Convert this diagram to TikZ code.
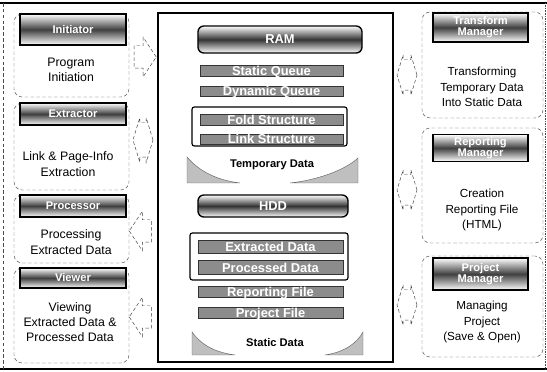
\documentclass[tikz,border=0pt]{standalone}
\usepackage{fontspec}
\setmainfont{Liberation Sans}
\usetikzlibrary{shapes.arrows,positioning,calc}

\begin{document}
\begin{tikzpicture}[x=0.03cm, y=-0.03cm,
  modbox/.style={draw=black!70, densely dashed, rounded corners=7pt, inner sep=0pt},
  titlebox/.style={draw=black, line width=1.1pt, top color=white, bottom color=white,
    middle color=black!75, inner sep=0pt, align=center, text=white,
    font=\fontsize{9.5}{10.5}\selectfont\bfseries},
  barbox/.style={draw=black!80, fill=black!45, minimum width=4.29cm, inner sep=0pt,
    text height=7.9pt, text depth=0pt, text=white, font=\fontsize{11}{11}\selectfont\bfseries},
  groupbox/.style={draw=black, line width=1pt, rounded corners=2pt, inner sep=0pt},
  memhead/.style={draw=black, line width=1.2pt, rounded corners=5pt, top color=white,
    bottom color=white, middle color=black!80, inner sep=0pt, text=white,
    font=\fontsize{11}{11}\selectfont\bfseries},
  desc/.style={align=center, font=\fontsize{10.5}{13}\selectfont},
  wedge/.style={fill=black!25, draw=black!60, thin},
  onearrow/.style={single arrow, draw=black!75, densely dashed, thin, minimum height=0.66cm,
    inner xsep=0pt, inner ysep=0.33cm, single arrow head extend=0.255cm, single arrow tip angle=113},
  twoarrow/.style={double arrow, draw=black!75, densely dashed, thin, minimum height=0.6cm,
    inner xsep=0pt, inner ysep=0.45cm, double arrow head extend=0.15cm, double arrow tip angle=146}]

\useasboundingbox (0,0) rectangle (547,372);

% outer frame
\draw[line width=1.2pt] (0,3) -- (547,3);
\draw[line width=1.2pt] (0,369) -- (547,369);
\draw[densely dashed, black!70] (3,3) -- (3,369);
\draw[densely dotted, black!70] (545,3) -- (545,369);

% left column
\node[modbox, minimum width=3.45cm, minimum height=2.49cm] (init) at (71.5,55.5) {};
\node[titlebox, minimum width=3.18cm, minimum height=0.93cm] (initT) at (73,29.5) {Initiator};
\node[desc] (initD) at (71,70) {Program\\Initiation};

\node[modbox, minimum width=3.45cm, minimum height=2.61cm] (extr) at (71.5,146.5) {};
\node[titlebox, minimum width=3.18cm, minimum height=0.66cm] (extrT) at (73,114) {Extractor};
\node[desc] (extrD) at (68,164) {Link \& Page-Info\\Extraction};

\node[modbox, minimum width=3.45cm, minimum height=2.04cm] (proc) at (71.5,229) {};
\node[titlebox, minimum width=3.18cm, minimum height=0.66cm] (procT) at (73,206) {Processor};
\node[desc] (procD) at (71,242) {Processing\\Extracted Data};

\node[modbox, minimum width=3.45cm, minimum height=2.85cm] (view) at (71.5,315.5) {};
\node[titlebox, minimum width=3.18cm, minimum height=0.6cm] (viewT) at (73,278) {Viewer};
\node[desc] (viewD) at (70,322) {Viewing\\Extracted Data \&\\Processed Data};

% storage
\node[draw=black, line width=1pt, minimum width=7.05cm, minimum height=10.47cm] (main) at (275.5,187.5) {};

\node[memhead, minimum width=4.92cm, minimum height=0.81cm] (ram) at (280,39.5) {RAM};
\node[barbox, minimum height=0.33cm] (sq) at (271.5,70.5) {Static Queue};
\node[barbox, minimum height=0.3cm] (dq) at (271.5,91) {Dynamic Queue};
\node[groupbox, minimum width=4.65cm, minimum height=1.17cm] (tmp) at (269.5,126.5) {};
\node[barbox, minimum height=0.33cm] (fs) at (271.5,119.5) {Fold Structure};
\node[barbox, minimum height=0.3cm] (ls) at (271.5,139) {Link Structure};
\fill[wedge] (187,157) -- (187,183) -- (240,183) .. controls (215,180) and (198,170) .. (187,157) -- cycle;
\fill[wedge] (358,158) -- (358,183) -- (290,183) .. controls (318,180) and (345,170) .. (358,158) -- cycle;
\node[font=\fontsize{9.5}{10}\selectfont\bfseries] (tmpD) at (272,165) {Temporary Data};

\node[memhead, minimum width=4.5cm, minimum height=0.66cm] (hdd) at (273,206) {HDD};
\node[groupbox, minimum width=4.74cm, minimum height=1.41cm] (st) at (269,256.5) {};
\node[barbox, minimum width=4.35cm, minimum height=0.39cm] (ed) at (270.5,246.5) {Extracted Data};
\node[barbox, minimum width=4.35cm, minimum height=0.42cm] (pd) at (270.5,267.5) {Processed Data};
\node[barbox, minimum width=4.35cm, minimum height=0.33cm] (rf) at (270.5,292) {Reporting File};
\node[barbox, minimum width=4.35cm, minimum height=0.33cm] (pf) at (270.5,312.5) {Project File};
\fill[wedge] (192,332) -- (192,355) -- (235,355) .. controls (212,352) and (200,343) .. (192,332) -- cycle;
\fill[wedge] (363,332) -- (363,355) -- (325,355) .. controls (345,352) and (357,343) .. (363,332) -- cycle;
\node[font=\fontsize{9.5}{10}\selectfont\bfseries] (stD) at (275,343) {Static Data};

% right column
\node[modbox, minimum width=3.63cm, minimum height=3.18cm] (trans) at (482.5,65) {};
\node[titlebox, minimum width=2.85cm, minimum height=0.87cm, font=\fontsize{9.5}{9.5}\selectfont\bfseries] (transT) at (480.5,27.5) {Transform\\Manager};
\node[desc, font=\fontsize{10}{13}\selectfont] (transD) at (482,87) {Transforming\\Temporary Data\\Into Static Data};

\node[modbox, minimum width=3.63cm, minimum height=3.45cm] (rep) at (482.5,185.5) {};
\node[titlebox, minimum width=2.85cm, minimum height=0.8cm, font=\fontsize{9.5}{9.5}\selectfont\bfseries] (repT) at (480.5,148) {Reporting\\Manager};
\node[desc, font=\fontsize{10}{13}\selectfont] (repD) at (482,210) {Creation\\Reporting File\\(HTML)};

\node[modbox, minimum width=3.63cm, minimum height=3.03cm] (proj) at (482.5,306.5) {};
\node[titlebox, minimum width=2.85cm, minimum height=0.96cm, font=\fontsize{9.5}{9.5}\selectfont\bfseries] (projT) at (480.5,274) {Project\\Manager};
\node[desc, font=\fontsize{10}{13}\selectfont] (projD) at (482,322) {Managing\\Project\\(Save \& Open)};

% block arrows
\node[onearrow] (a1) at (141.5,57) {};
\node[twoarrow, inner ysep=0.51cm] (a2) at (143,140) {};
\node[onearrow, shape border rotate=180] (a3) at (144,231) {};
\node[onearrow, shape border rotate=180] (a4) at (144,317) {};
\node[twoarrow] (a5) at (407,75) {};
\node[twoarrow] (a6) at (407,190) {};
\node[twoarrow] (a7) at (407,305) {};

\end{tikzpicture}
\end{document}
